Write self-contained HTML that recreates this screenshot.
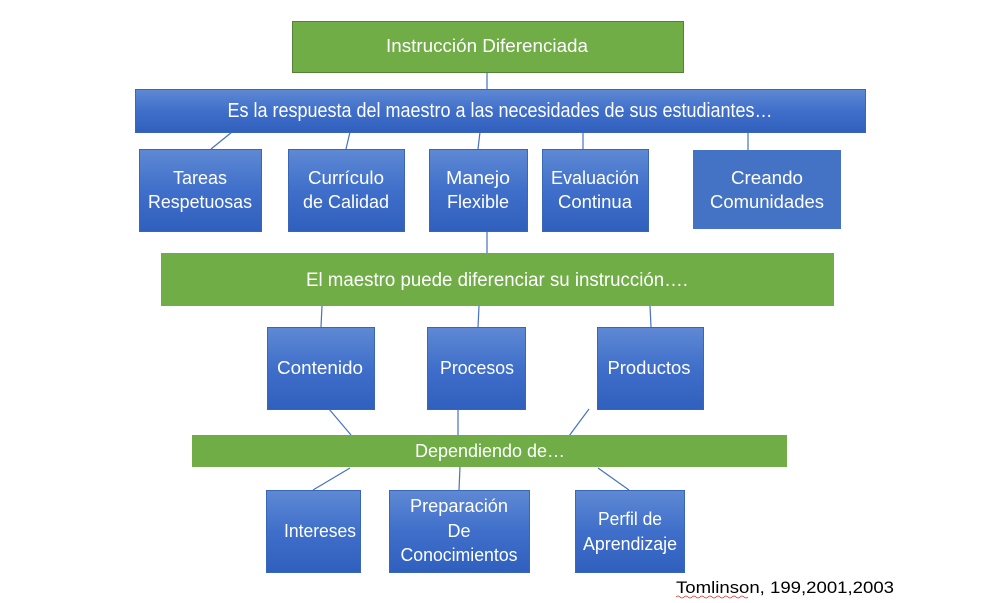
<!DOCTYPE html>
<html><head><meta charset="utf-8"><style>
html,body{margin:0;padding:0;background:#fff;}
svg{display:block;}
text{font-family:"Liberation Sans",sans-serif;fill:#fff;}
</style></head><body>
<svg width="999" height="603" viewBox="0 0 999 603" xmlns="http://www.w3.org/2000/svg">
<defs>
<linearGradient id="b" x1="0" y1="0" x2="0" y2="1">
<stop offset="0" stop-color="#5f89d4"/><stop offset="0.5" stop-color="#3f6fca"/><stop offset="1" stop-color="#3060bd"/>
</linearGradient>
</defs>
<g stroke="#4472c4" stroke-width="1.2">
<line x1="487" y1="72" x2="487" y2="89"/>
<line x1="232" y1="132" x2="211" y2="149"/>
<line x1="350" y1="132" x2="346" y2="149"/>
<line x1="480" y1="132" x2="478" y2="149"/>
<line x1="583" y1="132" x2="583" y2="149"/>
<line x1="748" y1="132" x2="748" y2="150"/>
<line x1="487" y1="231" x2="487" y2="253"/>
<line x1="322" y1="306" x2="321" y2="327"/>
<line x1="479" y1="306" x2="478" y2="327"/>
<line x1="650" y1="306" x2="651" y2="327"/>
<line x1="329" y1="409" x2="351" y2="435"/>
<line x1="458" y1="409" x2="458" y2="435"/>
<line x1="589" y1="409" x2="569" y2="436"/>
<line x1="350" y1="468" x2="313" y2="490"/>
<line x1="460" y1="467" x2="459" y2="490"/>
<line x1="598" y1="468" x2="629" y2="490"/>
</g>
<g fill="#70ad47" stroke="#548235" stroke-width="1">
<rect x="292.5" y="21.5" width="391" height="51"/>
</g>
<rect x="161" y="253" width="673" height="53" fill="#70ad47"/>
<rect x="192" y="435" width="595" height="32" fill="#70ad47"/>
<g fill="url(#b)" stroke="#3a66b8" stroke-width="1">
<rect x="135.5" y="89.5" width="730" height="43"/>
<rect x="139.5" y="149.5" width="122" height="82"/>
<rect x="288.5" y="149.5" width="116" height="82"/>
<rect x="429.5" y="149.5" width="98" height="82"/>
<rect x="542.5" y="149.5" width="106" height="82"/>
<rect x="267.5" y="327.5" width="107" height="82"/>
<rect x="427.5" y="327.5" width="98" height="82"/>
<rect x="597.5" y="327.5" width="106" height="82"/>
<rect x="266.5" y="490.5" width="94" height="82"/>
<rect x="389.5" y="490.5" width="140" height="82"/>
<rect x="575.5" y="490.5" width="109" height="82"/>
</g>
<rect x="693" y="150" width="148" height="79" fill="#4472c4"/>
<g font-size="18" text-anchor="middle">
<text x="487" y="52" textLength="202" lengthAdjust="spacingAndGlyphs">Instrucción Diferenciada</text>
<text x="500" y="117" font-size="20" textLength="545" lengthAdjust="spacingAndGlyphs">Es la respuesta del maestro a las necesidades de sus estudiantes…</text>
<text x="200" y="184" textLength="54" lengthAdjust="spacingAndGlyphs">Tareas</text><text x="200" y="208" textLength="104" lengthAdjust="spacingAndGlyphs">Respetuosas</text>
<text x="346" y="184" textLength="76" lengthAdjust="spacingAndGlyphs">Currículo</text><text x="346" y="208" textLength="86" lengthAdjust="spacingAndGlyphs">de Calidad</text>
<text x="478" y="184" textLength="64" lengthAdjust="spacingAndGlyphs">Manejo</text><text x="478" y="208" textLength="62" lengthAdjust="spacingAndGlyphs">Flexible</text>
<text x="595" y="184" textLength="88" lengthAdjust="spacingAndGlyphs">Evaluación</text><text x="595" y="208" textLength="74" lengthAdjust="spacingAndGlyphs">Continua</text>
<text x="767" y="184" textLength="72" lengthAdjust="spacingAndGlyphs">Creando</text><text x="767" y="208" textLength="114" lengthAdjust="spacingAndGlyphs">Comunidades</text>
<text x="497" y="286" font-size="19" textLength="382" lengthAdjust="spacingAndGlyphs">El maestro puede diferenciar su instrucción….</text>
<text x="320" y="374" textLength="86" lengthAdjust="spacingAndGlyphs">Contenido</text>
<text x="477" y="374" textLength="74" lengthAdjust="spacingAndGlyphs">Procesos</text>
<text x="649" y="374" textLength="83" lengthAdjust="spacingAndGlyphs">Productos</text>
<text x="490" y="457" textLength="150" lengthAdjust="spacingAndGlyphs">Dependiendo de…</text>
<text x="320" y="537" textLength="72" lengthAdjust="spacingAndGlyphs">Intereses</text>
<text x="459" y="512" textLength="98" lengthAdjust="spacingAndGlyphs">Preparación</text><text x="459" y="537">De</text><text x="459" y="561" textLength="117" lengthAdjust="spacingAndGlyphs">Conocimientos</text>
<text x="630" y="525" textLength="64" lengthAdjust="spacingAndGlyphs">Perfil de</text><text x="630" y="550" textLength="94" lengthAdjust="spacingAndGlyphs">Aprendizaje</text>
</g>
<text x="676" y="593" font-size="17" style="fill:#000" textLength="218" lengthAdjust="spacingAndGlyphs">Tomlinson, 199,2001,2003</text>
<path d="M676 597 q2 -2 4 0 t4 0 t4 0 t4 0 t4 0 t4 0 t4 0 t4 0 t4 0 t4 0 t4 0 t4 0 t4 0 t4 0 t4 0 t4 0 t4 0 t4 0" fill="none" stroke="#d33" stroke-width="0.8"/>
</svg>
</body></html>
